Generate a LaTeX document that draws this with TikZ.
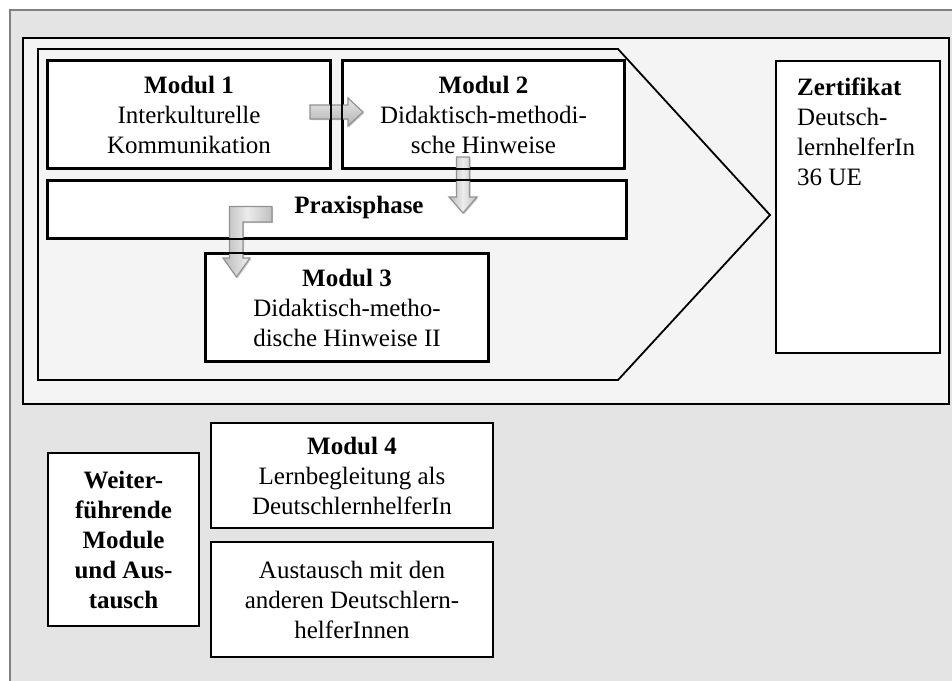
\documentclass[tikz,border=0pt]{standalone}
\usepackage{fontspec}
\setmainfont{Liberation Serif}
\usetikzlibrary{shadows,calc}
\definecolor{outerbg}{HTML}{E4E4E4}
\definecolor{innerbg}{HTML}{F4F4F4}
\definecolor{outerline}{HTML}{808080}
\definecolor{arrowline}{HTML}{929292}
\begin{document}
\begin{tikzpicture}[x=1pt,y=-1pt,
  boxline/.style={draw=black, line width=1.7pt},
  box/.style={boxline, fill=white, inner sep=0pt, align=center,
    font=\fontsize{25}{30}\selectfont,
    drop shadow={shadow xshift=1.3pt, shadow yshift=-1.3pt, fill=black, opacity=0.25}},
  txt/.style={inner sep=0pt, font=\fontsize{25}{30}\selectfont},
  harrow/.style={draw=arrowline, line width=1.2pt, top color=gray!18, bottom color=gray!60,
    drop shadow={shadow xshift=1.2pt, shadow yshift=-1.2pt, fill=black, opacity=0.2}},
  varrow/.style={draw=arrowline, line width=1.2pt, left color=gray!55, right color=gray!50, middle color=gray!15,
    drop shadow={shadow xshift=1.2pt, shadow yshift=-1.2pt, fill=black, opacity=0.2}}
]
\clip (0,0) rectangle (952,680);
\useasboundingbox (0,0) rectangle (952,680);
\fill[white] (0,0) rectangle (952,680);
% outer panel
\draw[outerline, line width=1.5pt, fill=outerbg] (10,10) rectangle (970,700);
% inner panel
\draw[black, line width=1.8pt, fill=innerbg] (23,38) rectangle (949,404);
% chevron
\draw[black, line width=1.8pt, fill=innerbg, line join=miter]
  (38,49) -- (618,49) -- (770,215) -- (618,380) -- (38,380) -- cycle;

% boxes
\node[box, minimum width=282pt, minimum height=107pt] (m1) at (189,114.5)
  {\textbf{Modul 1}\\Interkulturelle\\Kommunikation};
\node[box, minimum width=281pt, minimum height=107pt] (m2) at (483.5,114.5)
  {\textbf{Modul 2}\\Didaktisch-methodi-\\sche Hinweise};
\node[box, minimum width=578pt, minimum height=57pt] (px) at (337,209.5) {};
\node[txt, anchor=base] (pxt) at (359,213) {\textbf{Praxisphase}};
\node[box, minimum width=282pt, minimum height=107pt] (m3) at (347,307.5)
  {\textbf{Modul 3}\\Didaktisch-metho-\\dische Hinweise II};
\node[box, minimum width=164pt, minimum height=292pt] (zert) at (858,207) {};
\node[txt, anchor=north west, align=left] (zt) at (797,78)
  {\textbf{Zertifikat}\\Deutsch-\\lernhelferIn\\36 UE};

\node[box, minimum width=151pt, minimum height=173pt] (wf) at (123.5,539.5)
  {\textbf{Weiter-}\\\textbf{führende}\\\textbf{Module}\\\textbf{und Aus-}\\\textbf{tausch}};
\node[box, minimum width=282pt, minimum height=105pt] (m4) at (352,475.5)
  {\textbf{Modul 4}\\Lernbegleitung als\\DeutschlernhelferIn};
\node[box, minimum width=282pt, minimum height=115pt] (au) at (352,599.5)
  {Austausch mit den\\anderen Deutschlern-\\helferInnen};

% block arrows
\draw[harrow] (310,105) -- (348,105) -- (348,98) -- (363,112) -- (348,126) -- (348,119) -- (310,119) -- cycle;
\draw[varrow] (456.5,157) -- (469.5,157) -- (469.5,197) -- (477,197) -- (463,213) -- (449,197) -- (456.5,197) -- cycle;
\draw[varrow] (272,206.5) -- (272,222) -- (243,222) -- (243,258) -- (250,258) -- (236.5,277) -- (223,258) -- (229.5,258) -- (229.5,206.5) -- cycle;

% box borders on top of arrows
\foreach \n in {m1,m2,px,m3} \draw[boxline] (\n.north west) rectangle (\n.south east);
\end{tikzpicture}
\end{document}
